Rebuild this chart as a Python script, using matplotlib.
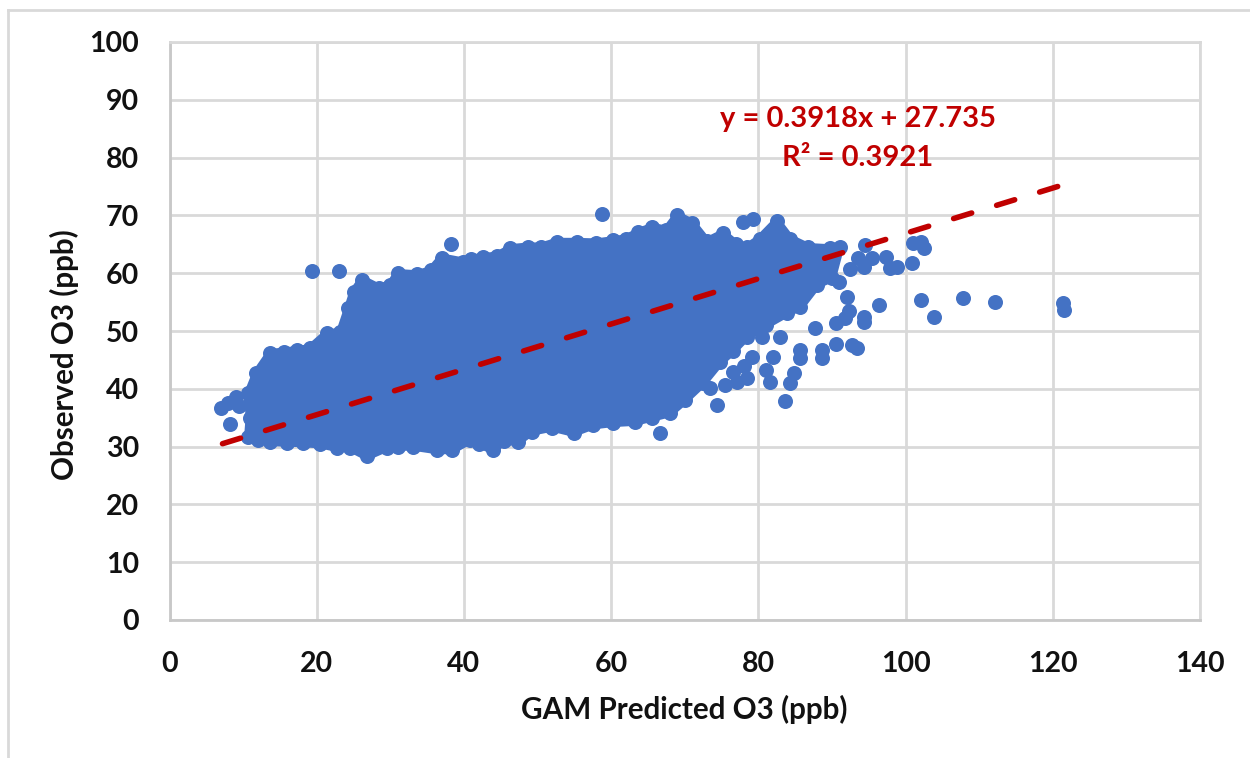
import matplotlib
matplotlib.use("Agg")
import matplotlib.pyplot as plt
from matplotlib.lines import Line2D

# upper edge of the dense cloud, left to right
top_x = [10.7, 11.8, 13.7, 15.5, 17.3, 19.1, 21.4, 23.2, 24.3, 25.0, 26.2, 28.4, 30.0, 31.0, 33.6, 35.5, 37.0,
         39.9, 41.0, 42.6, 44.5, 46.3, 48.7, 50.5, 52.6, 55.3, 58.0, 60.3, 62.0, 63.7, 65.6, 67.5, 69.0, 71.0,
         73.0, 75.2, 77.0, 78.5, 80.2, 82.5, 84.3, 86.8, 89.7, 91.1]
top_y = [39.2, 42.7, 46.2, 46.4, 46.7, 47.0, 49.6, 49.8, 54.0, 56.8, 58.9, 57.5, 58.0, 60.0, 59.8, 60.5, 62.7,
         62.0, 62.5, 62.8, 63.0, 64.3, 64.6, 64.6, 65.4, 65.4, 65.3, 65.7, 66.0, 67.1, 68.0, 67.5, 70.0, 68.7,
         65.5, 66.9, 65.0, 64.5, 66.0, 69.0, 66.0, 64.5, 64.3, 64.5]

# lower edge of the dense cloud, right to left
low_x = [90.0, 88.0, 85.7, 83.9, 81.0, 78.4, 76.5, 74.8, 72.5, 70.0, 68.0, 65.5, 63.2, 60.3, 57.6, 54.9, 52.0,
         49.2, 47.3, 45.5, 43.9, 42.0, 40.8, 38.4, 36.3, 33.1, 31.0, 29.5, 26.8, 24.5, 22.7, 20.5, 18.2, 16.0,
         13.7, 12.0, 10.7, 10.9]
low_y = [59.2, 58.0, 54.2, 53.1, 51.0, 49.0, 46.5, 44.6, 41.0, 38.0, 35.8, 35.0, 34.3, 34.1, 33.7, 32.4, 33.3,
         32.6, 30.8, 31.0, 29.4, 30.5, 31.1, 29.4, 29.4, 30.0, 30.0, 29.8, 28.3, 29.8, 29.8, 30.4, 30.6, 30.7,
         30.8, 31.2, 31.7, 35.0]

# separate points outside the cloud
out_x = [7.0, 8.0, 9.1, 9.5, 11.0, 12.5, 14.0, 8.2, 19.3, 23.0, 38.3, 58.8, 66.6, 74.4, 73.4, 75.5, 77.1, 78.4,
         76.6, 79.1, 78.0, 81.6, 81.1, 82.0, 82.9, 80.5, 77.9, 79.3, 85.7, 85.7, 84.8, 84.3, 83.6, 87.7, 88.7,
         88.7, 90.5, 92.7, 93.4, 90.5, 91.8, 92.3, 92.0, 91.0, 94.3, 94.3, 96.4, 92.5, 94.3, 94.5, 93.5, 95.5,
         97.4, 97.9, 98.8, 100.9, 101.0, 102.1, 102.5, 102.1, 103.9, 107.8, 112.2, 121.4, 121.5]
out_y = [36.6, 37.5, 38.6, 37.0, 37.5, 39.6, 39.5, 33.9, 60.4, 60.4, 65.1, 70.2, 32.4, 37.2, 40.1, 40.6, 41.1, 41.8,
         42.9, 45.5, 44.0, 41.1, 43.3, 45.5, 49.0, 49.0, 68.9, 69.4, 46.7, 45.3, 42.8, 41.0, 37.9, 50.5, 46.7,
         45.3, 47.8, 47.6, 47.0, 51.3, 52.2, 53.5, 55.9, 58.5, 52.4, 51.6, 54.5, 60.8, 61.0, 64.8, 62.6, 62.6,
         62.8, 60.9, 61.0, 61.8, 65.2, 65.4, 64.3, 55.3, 52.4, 55.7, 55.0, 54.8, 53.6]

# trendline ends
trend_x = [7.2, 122.2]
trend_y = [30.5, 75.6]

x_ticks = [0, 20, 40, 60, 80, 100, 120, 140]
y_ticks = [0, 10, 20, 30, 40, 50, 60, 70, 80, 90, 100]

blue = "#4472C4"
red = "#C00000"
grid = "#D9D9D9"
ink = "#111111"

plt.rcParams["font.family"] = ["Lato", "DejaVu Sans"]
plt.rcParams["font.weight"] = "bold"

fig = plt.figure(figsize=(12.5, 7.58), dpi=100)
ax = fig.add_axes([169.5 / 1250, 1 - 620 / 758, (1200 - 169.5) / 1250, (620 - 42) / 758])

# cloud is solid blue in the picture, so outline plus edge points is enough
# thin edge on the outline closes the gaps between the edge points
ax.fill(top_x + low_x, top_y + low_y, facecolor=blue, edgecolor=blue, lw=6, joinstyle="round", zorder=3)
ax.scatter(top_x + low_x + out_x, top_y + low_y + out_y, s=117, color=blue, lw=0, zorder=3)
ax.plot(trend_x, trend_y, color=red, lw=4, dashes=(3.4, 4.7), dash_capstyle="round", zorder=4)

ax.set_xlim(0, 140)
ax.set_ylim(0, 100)
ax.set_xticks(x_ticks)
ax.set_yticks(y_ticks)
ax.grid(True, color=grid, lw=2)
ax.set_axisbelow(True)
ax.tick_params(length=0, labelsize=20.5, colors=ink)
ax.tick_params(axis="x", pad=22)
ax.tick_params(axis="y", pad=22)
for s in ax.spines.values():
    s.set_color(grid)
    s.set_linewidth(2)
ax.spines["left"].set_color("#C8C8C8")
ax.spines["bottom"].set_color("#C8C8C8")

fig.text(684.5 / 1250, 1 - 709 / 758, "GAM Predicted O3 (ppb)", fontsize=21.3, ha="center", va="center", color=ink)
fig.text(64 / 1250, 1 - 355 / 758, "Observed O3 (ppb)", fontsize=21.3, rotation=90, ha="center", va="center", color=ink)
fig.text(858 / 1250, 1 - 119 / 758, "y = 0.3918x + 27.735", fontsize=21, ha="center", va="center", color=red)
fig.text(858 / 1250, 1 - 158 / 758, "R² = 0.3921", fontsize=21, ha="center", va="center", color=red)

# outer frame of the pasted figure, left and top only
fig.add_artist(Line2D([8 / 1250, 8 / 1250], [0, 1 - 10 / 758], color=grid, lw=2))
fig.add_artist(Line2D([8 / 1250, 1], [1 - 10 / 758, 1 - 10 / 758], color=grid, lw=2))

fig.savefig("out.png", dpi=100)
